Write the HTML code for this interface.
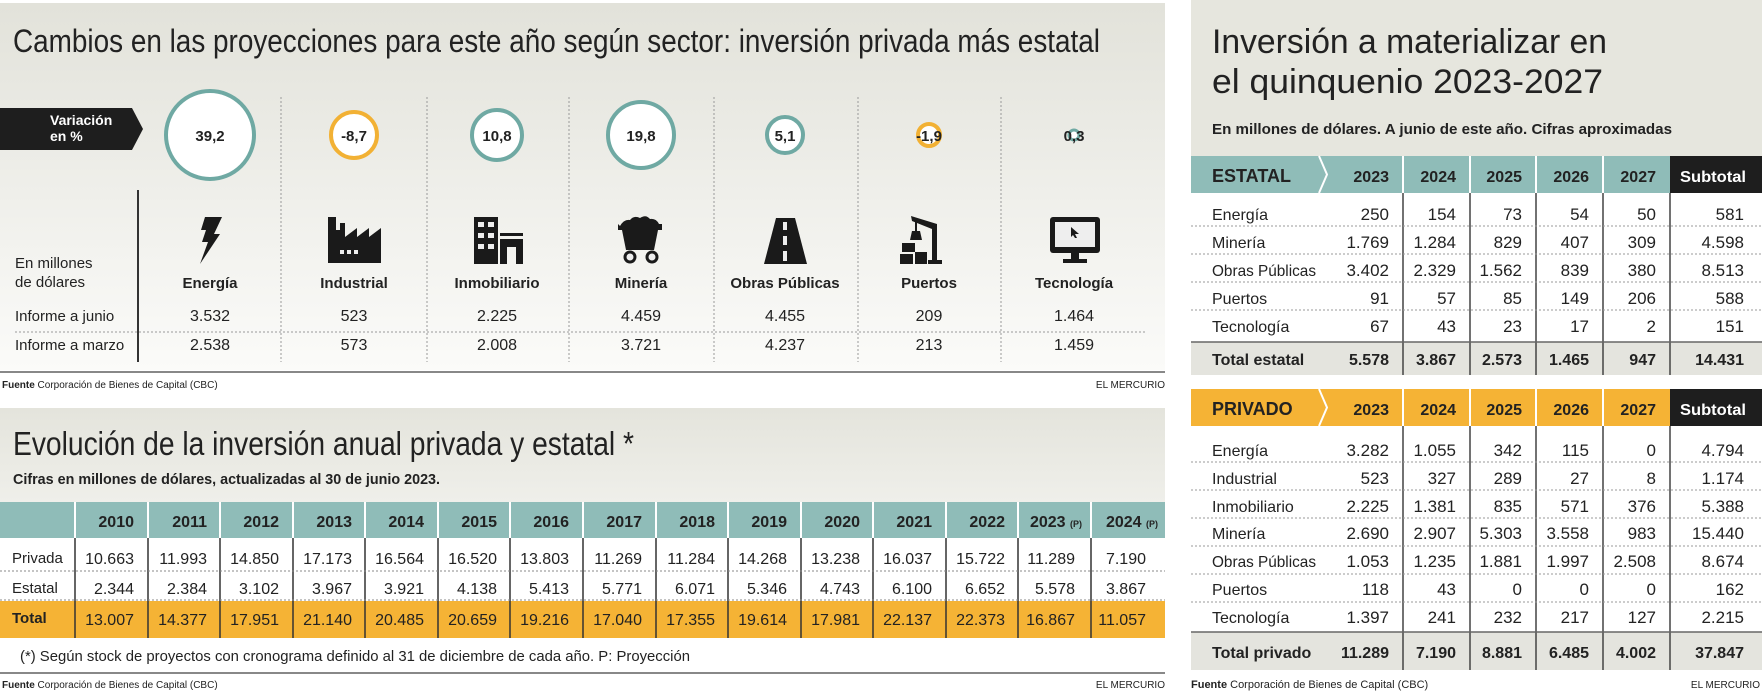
<!DOCTYPE html>
<html><head><meta charset="utf-8"><style>
html,body{margin:0;padding:0;background:#fff;}
svg{display:block;}
text{font-family:"Liberation Sans Narrow","Liberation Sans",sans-serif;fill:#222;}
.b{font-weight:bold;}
</style></head><body>
<svg width="1762" height="695" viewBox="0 0 1762 695" xmlns="http://www.w3.org/2000/svg">
<defs>
<linearGradient id="g1" x1="0" y1="0" x2="0" y2="1"><stop offset="0" stop-color="#e2e2da"/><stop offset="1" stop-color="#fbfbf9"/></linearGradient>
<linearGradient id="g2" x1="0" y1="0" x2="0" y2="1"><stop offset="0" stop-color="#e4e4dc"/><stop offset="1" stop-color="#efefea"/></linearGradient>
</defs>
<rect x="0" y="3" width="1165" height="367" fill="url(#g1)"/>
<text x="13" y="52" font-size="32" textLength="1087" lengthAdjust="spacingAndGlyphs" fill="#333">Cambios en las proyecciones para este año según sector: inversión privada más estatal</text>
<polygon points="0,108 132,108 143,129 132,150 0,150" fill="#1e1e1e"/>
<text x="50" y="125" font-size="14" class="b" style="fill:#fff">Variación</text>
<text x="50" y="141" font-size="14" class="b" style="fill:#fff">en %</text>
<g stroke="#999" stroke-dasharray="2,2" stroke-width="1">
<line x1="281" y1="97" x2="281" y2="362"/><line x1="427" y1="97" x2="427" y2="362"/><line x1="569" y1="97" x2="569" y2="362"/>
<line x1="714" y1="97" x2="714" y2="362"/><line x1="858" y1="97" x2="858" y2="362"/><line x1="1001" y1="97" x2="1001" y2="362"/>
<line x1="15" y1="332" x2="1146" y2="332"/>
</g>
<line x1="138" y1="190" x2="138" y2="362" stroke="#333" stroke-width="2"/>
<g stroke-width="4" fill="#fff">
<circle cx="210" cy="135" r="44" stroke="#6fa9a3"/>
<circle cx="354" cy="135" r="23" stroke="#f2b134"/>
<circle cx="497" cy="135" r="25" stroke="#6fa9a3"/>
<circle cx="641" cy="135" r="33" stroke="#6fa9a3"/>
<circle cx="785" cy="135" r="18" stroke="#6fa9a3"/>
<circle cx="929" cy="135" r="11" stroke="#f2b134"/>
<circle cx="1074" cy="135" r="5" stroke="#6fa9a3" stroke-width="3"/>
</g>
<g font-size="15" class="b" text-anchor="middle">
<text x="210" y="141">39,2</text><text x="354" y="141">-8,7</text><text x="497" y="141">10,8</text><text x="641" y="141">19,8</text><text x="785" y="141">5,1</text><text x="929" y="141">-1,9</text><text x="1074" y="141">0,3</text>
</g>
<g fill="#1a1a1a">
<polygon points="205,217 222,217 214,234 220,234 200,264 208,242 202,242 206,230 201,230"/>
<path d="M328,263 V237 h0 V217 h8 V230 h4 V223 h5 V237 l12,-9 v9 l12,-9 v9 l12,-9 V263 Z"/>
<rect x="340" y="250" width="4" height="4" fill="#eee"/><rect x="347" y="250" width="4" height="4" fill="#eee"/><rect x="354" y="250" width="4" height="4" fill="#eee"/>
<rect x="474" y="217" width="24" height="47"/>
<rect x="500" y="233" width="23" height="3"/>
<path d="M500,239 h23 v25 h-7 v-17 h-9 v17 h-7 Z"/>
<g fill="#eee"><rect x="478" y="222" width="6" height="5"/><rect x="488" y="222" width="6" height="5"/><rect x="478" y="233" width="6" height="5"/><rect x="488" y="233" width="6" height="5"/><rect x="478" y="244" width="6" height="5"/><rect x="488" y="244" width="6" height="5"/></g>
<path d="M620,226 q4,-7 10,-6 q4,-5 10,-2 q6,-4 10,1 q6,-1 9,5 h3 v6 h-4 l-4,20 h-28 l-4,-20 h-4 v-6 Z"/>
<circle cx="630" cy="257" r="5" stroke="#1a1a1a" stroke-width="3" fill="#eee"/><circle cx="652" cy="257" r="5" stroke="#1a1a1a" stroke-width="3" fill="#eee"/>
<polygon points="776,218 795,218 807,264 764,264"/>
<g fill="#eee"><rect x="783" y="222" width="4" height="8"/><rect x="783" y="236" width="4" height="9"/><rect x="783" y="251" width="4" height="10"/></g>
<path d="M911,216 l26,8 v36 h5 v4 h-14 v-4 h4 v-31 l-20,-8 Z"/>
<line x1="916" y1="218" x2="916" y2="231" stroke="#1a1a1a" stroke-width="2"/>
<polygon points="912,231 920,231 922,240 910,240"/>
<rect x="902" y="243" width="13" height="9"/><rect x="900" y="254" width="13" height="10"/><rect x="915" y="252" width="12" height="12"/>
<rect x="1050" y="217" width="50" height="36" rx="3"/>
<rect x="1055" y="222" width="40" height="25" fill="#eee"/>
<polygon points="1071,227 1079,234 1075,234 1077,238 1075,238 1073,235 1071,237" />
<rect x="1071" y="253" width="8" height="6"/><rect x="1063" y="259" width="24" height="4"/>
</g>
<g font-size="15" text-anchor="middle" class="b">
<text x="210" y="288">Energía</text><text x="354" y="288">Industrial</text><text x="497" y="288">Inmobiliario</text><text x="641" y="288">Minería</text><text x="785" y="288">Obras Públicas</text><text x="929" y="288">Puertos</text><text x="1074" y="288">Tecnología</text>
</g>
<g font-size="16" text-anchor="middle" fill="#333">
<text x="210" y="321">3.532</text><text x="354" y="321">523</text><text x="497" y="321">2.225</text><text x="641" y="321">4.459</text><text x="785" y="321">4.455</text><text x="929" y="321">209</text><text x="1074" y="321">1.464</text>
<text x="210" y="350">2.538</text><text x="354" y="350">573</text><text x="497" y="350">2.008</text><text x="641" y="350">3.721</text><text x="785" y="350">4.237</text><text x="929" y="350">213</text><text x="1074" y="350">1.459</text>
</g>
<g font-size="15">
<text x="15" y="268">En millones</text><text x="15" y="287">de dólares</text>
<text x="15" y="321">Informe a junio</text><text x="15" y="350">Informe a marzo</text>
</g>
<rect x="0" y="371" width="1165" height="2" fill="#888"/>
<text x="2" y="388" font-size="10"><tspan class="b">Fuente</tspan>  Corporación de Bienes de Capital (CBC)</text>
<text x="1165" y="388" font-size="10" text-anchor="end">EL MERCURIO</text>

<rect x="0" y="408" width="1165" height="94" fill="url(#g2)"/>
<text x="13" y="455" font-size="33" textLength="621" lengthAdjust="spacingAndGlyphs" fill="#333">Evolución de la inversión anual privada y estatal *</text>
<text x="13" y="484" font-size="15" class="b" textLength="427" lengthAdjust="spacingAndGlyphs" fill="#333">Cifras en millones de dólares, actualizadas al 30 de junio 2023.</text>
<rect x="0" y="502" width="1165" height="36" fill="#8fbcb8"/>
<rect x="0" y="601" width="1165" height="37" fill="#f5b335"/>
<g fill="#fff">
<rect x="74" y="502" width="2" height="36"/><rect x="147" y="502" width="2" height="36"/><rect x="219" y="502" width="2" height="36"/><rect x="292" y="502" width="2" height="36"/><rect x="364" y="502" width="2" height="36"/><rect x="437" y="502" width="2" height="36"/><rect x="509" y="502" width="2" height="36"/><rect x="582" y="502" width="2" height="36"/><rect x="655" y="502" width="2" height="36"/><rect x="727" y="502" width="2" height="36"/><rect x="800" y="502" width="2" height="36"/><rect x="872" y="502" width="2" height="36"/><rect x="945" y="502" width="2" height="36"/><rect x="1017" y="502" width="2" height="36"/><rect x="1090" y="502" width="2" height="36"/>
</g>
<g stroke="#333" stroke-width="1.5">
<line x1="75" y1="538" x2="75" y2="638"/><line x1="148" y1="538" x2="148" y2="638"/><line x1="220" y1="538" x2="220" y2="638"/><line x1="293" y1="538" x2="293" y2="638"/><line x1="365" y1="538" x2="365" y2="638"/><line x1="438" y1="538" x2="438" y2="638"/><line x1="510" y1="538" x2="510" y2="638"/><line x1="583" y1="538" x2="583" y2="638"/><line x1="656" y1="538" x2="656" y2="638"/><line x1="728" y1="538" x2="728" y2="638"/><line x1="801" y1="538" x2="801" y2="638"/><line x1="873" y1="538" x2="873" y2="638"/><line x1="946" y1="538" x2="946" y2="638"/><line x1="1018" y1="538" x2="1018" y2="638"/><line x1="1091" y1="538" x2="1091" y2="638"/>
</g>
<g stroke="#888" stroke-dasharray="2,2"><line x1="0" y1="571" x2="1165" y2="571"/><line x1="0" y1="600" x2="1165" y2="600"/></g>
<g font-size="16" class="b" text-anchor="end">
<text x="134" y="527">2010</text><text x="207" y="527">2011</text><text x="279" y="527">2012</text><text x="352" y="527">2013</text><text x="424" y="527">2014</text><text x="497" y="527">2015</text><text x="569" y="527">2016</text><text x="642" y="527">2017</text><text x="715" y="527">2018</text><text x="787" y="527">2019</text><text x="860" y="527">2020</text><text x="932" y="527">2021</text><text x="1005" y="527">2022</text>
<text x="1082" y="527">2023 <tspan font-size="9">(P)</tspan></text><text x="1158" y="527">2024 <tspan font-size="9">(P)</tspan></text>
</g>
<g font-size="16" text-anchor="end" fill="#333">
<text x="134" y="564">10.663</text><text x="207" y="564">11.993</text><text x="279" y="564">14.850</text><text x="352" y="564">17.173</text><text x="424" y="564">16.564</text><text x="497" y="564">16.520</text><text x="569" y="564">13.803</text><text x="642" y="564">11.269</text><text x="715" y="564">11.284</text><text x="787" y="564">14.268</text><text x="860" y="564">13.238</text><text x="932" y="564">16.037</text><text x="1005" y="564">15.722</text><text x="1075" y="564">11.289</text><text x="1146" y="564">7.190</text>
<text x="134" y="594">2.344</text><text x="207" y="594">2.384</text><text x="279" y="594">3.102</text><text x="352" y="594">3.967</text><text x="424" y="594">3.921</text><text x="497" y="594">4.138</text><text x="569" y="594">5.413</text><text x="642" y="594">5.771</text><text x="715" y="594">6.071</text><text x="787" y="594">5.346</text><text x="860" y="594">4.743</text><text x="932" y="594">6.100</text><text x="1005" y="594">6.652</text><text x="1075" y="594">5.578</text><text x="1146" y="594">3.867</text>
<text x="134" y="625">13.007</text><text x="207" y="625">14.377</text><text x="279" y="625">17.951</text><text x="352" y="625">21.140</text><text x="424" y="625">20.485</text><text x="497" y="625">20.659</text><text x="569" y="625">19.216</text><text x="642" y="625">17.040</text><text x="715" y="625">17.355</text><text x="787" y="625">19.614</text><text x="860" y="625">17.981</text><text x="932" y="625">22.137</text><text x="1005" y="625">22.373</text><text x="1075" y="625">16.867</text><text x="1146" y="625">11.057</text>
</g>
<g font-size="15"><text x="12" y="563">Privada</text><text x="12" y="593">Estatal</text><text x="12" y="623" class="b">Total</text></g>
<text x="20" y="661" font-size="15" fill="#333" textLength="670" lengthAdjust="spacingAndGlyphs">(*) Según stock de proyectos con cronograma definido al 31 de diciembre de cada año.   P: Proyección</text>
<rect x="0" y="672" width="1165" height="2" fill="#888"/>
<text x="2" y="688" font-size="10"><tspan class="b">Fuente</tspan>  Corporación de Bienes de Capital (CBC)</text>
<text x="1165" y="688" font-size="10" text-anchor="end">EL MERCURIO</text>

<rect x="1191" y="0" width="571" height="156" fill="#e6e6de"/>
<text x="1212" y="53" font-size="34" textLength="395" lengthAdjust="spacingAndGlyphs" fill="#333">Inversión a materializar en</text>
<text x="1212" y="93" font-size="34" textLength="391" lengthAdjust="spacingAndGlyphs" fill="#333">el quinquenio 2023-2027</text>
<text x="1212" y="134" font-size="15" class="b" textLength="460" lengthAdjust="spacingAndGlyphs" fill="#333">En millones de dólares. A junio de este año. Cifras aproximadas</text>

<rect x="1191" y="156" width="571" height="37" fill="#8fbcb8"/>
<rect x="1670" y="156" width="92" height="37" fill="#1e1e1e"/>
<polyline points="1319,156 1327,174.5 1319,193" fill="none" stroke="#fff" stroke-width="2"/>
<g fill="#fff"><rect x="1402" y="156" width="2" height="37"/><rect x="1469" y="156" width="2" height="37"/><rect x="1535" y="156" width="2" height="37"/><rect x="1602" y="156" width="2" height="37"/></g>
<rect x="1191" y="342" width="571" height="33" fill="#e4e4de"/>
<g stroke="#444" stroke-width="1.5"><line x1="1403" y1="193" x2="1403" y2="375"/><line x1="1470" y1="193" x2="1470" y2="375"/><line x1="1536" y1="193" x2="1536" y2="375"/><line x1="1603" y1="193" x2="1603" y2="375"/><line x1="1670" y1="193" x2="1670" y2="375"/></g>
<line x1="1191" y1="342" x2="1762" y2="342" stroke="#666" stroke-width="1.5"/>
<g stroke="#999" stroke-dasharray="2,2"><line x1="1191" y1="226" x2="1762" y2="226"/><line x1="1191" y1="254" x2="1762" y2="254"/><line x1="1191" y1="282" x2="1762" y2="282"/><line x1="1191" y1="310" x2="1762" y2="310"/></g>
<text x="1212" y="182" font-size="18" class="b">ESTATAL</text>
<g font-size="16" class="b" text-anchor="end"><text x="1389" y="182">2023</text><text x="1456" y="182">2024</text><text x="1522" y="182">2025</text><text x="1589" y="182">2026</text><text x="1656" y="182">2027</text><text x="1746" y="182" style="fill:#fff" textLength="66" lengthAdjust="spacingAndGlyphs">Subtotal</text></g>
<g font-size="16" fill="#333">
<text x="1212" y="220">Energía</text><text x="1212" y="248">Minería</text><text x="1212" y="276" textLength="104" lengthAdjust="spacingAndGlyphs">Obras Públicas</text><text x="1212" y="304">Puertos</text><text x="1212" y="332">Tecnología</text>
<text x="1212" y="365" class="b" style="fill:#222">Total estatal</text>
</g>
<g font-size="17" text-anchor="end" fill="#333">
<text x="1389" y="220">250</text><text x="1456" y="220">154</text><text x="1522" y="220">73</text><text x="1589" y="220">54</text><text x="1656" y="220">50</text><text x="1744" y="220">581</text>
<text x="1389" y="248">1.769</text><text x="1456" y="248">1.284</text><text x="1522" y="248">829</text><text x="1589" y="248">407</text><text x="1656" y="248">309</text><text x="1744" y="248">4.598</text>
<text x="1389" y="276">3.402</text><text x="1456" y="276">2.329</text><text x="1522" y="276">1.562</text><text x="1589" y="276">839</text><text x="1656" y="276">380</text><text x="1744" y="276">8.513</text>
<text x="1389" y="304">91</text><text x="1456" y="304">57</text><text x="1522" y="304">85</text><text x="1589" y="304">149</text><text x="1656" y="304">206</text><text x="1744" y="304">588</text>
<text x="1389" y="332">67</text><text x="1456" y="332">43</text><text x="1522" y="332">23</text><text x="1589" y="332">17</text><text x="1656" y="332">2</text><text x="1744" y="332">151</text>
</g>
<g font-size="16" text-anchor="end" class="b">
<text x="1389" y="365">5.578</text><text x="1456" y="365">3.867</text><text x="1522" y="365">2.573</text><text x="1589" y="365">1.465</text><text x="1656" y="365">947</text><text x="1744" y="365">14.431</text>
</g>

<rect x="1191" y="389" width="571" height="37" fill="#f5b335"/>
<rect x="1670" y="389" width="92" height="37" fill="#1e1e1e"/>
<polyline points="1319,389 1327,407.5 1319,426" fill="none" stroke="#fff" stroke-width="2"/>
<g fill="#fff"><rect x="1402" y="389" width="2" height="37"/><rect x="1469" y="389" width="2" height="37"/><rect x="1535" y="389" width="2" height="37"/><rect x="1602" y="389" width="2" height="37"/></g>
<rect x="1191" y="632" width="571" height="38" fill="#e4e4de"/>
<g stroke="#444" stroke-width="1.5"><line x1="1403" y1="426" x2="1403" y2="670"/><line x1="1470" y1="426" x2="1470" y2="670"/><line x1="1536" y1="426" x2="1536" y2="670"/><line x1="1603" y1="426" x2="1603" y2="670"/><line x1="1670" y1="426" x2="1670" y2="670"/></g>
<line x1="1191" y1="632" x2="1762" y2="632" stroke="#666" stroke-width="1.5"/>
<g stroke="#999" stroke-dasharray="2,2"><line x1="1191" y1="462" x2="1762" y2="462"/><line x1="1191" y1="490" x2="1762" y2="490"/><line x1="1191" y1="518" x2="1762" y2="518"/><line x1="1191" y1="546" x2="1762" y2="546"/><line x1="1191" y1="574" x2="1762" y2="574"/><line x1="1191" y1="602" x2="1762" y2="602"/></g>
<text x="1212" y="415" font-size="18" class="b">PRIVADO</text>
<g font-size="16" class="b" text-anchor="end"><text x="1389" y="415">2023</text><text x="1456" y="415">2024</text><text x="1522" y="415">2025</text><text x="1589" y="415">2026</text><text x="1656" y="415">2027</text><text x="1746" y="415" style="fill:#fff" textLength="66" lengthAdjust="spacingAndGlyphs">Subtotal</text></g>
<g font-size="16" fill="#333">
<text x="1212" y="456">Energía</text><text x="1212" y="484">Industrial</text><text x="1212" y="512">Inmobiliario</text><text x="1212" y="539">Minería</text><text x="1212" y="567" textLength="104" lengthAdjust="spacingAndGlyphs">Obras Públicas</text><text x="1212" y="595">Puertos</text><text x="1212" y="623">Tecnología</text>
<text x="1212" y="658" class="b" style="fill:#222">Total privado</text>
</g>
<g font-size="17" text-anchor="end" fill="#333">
<text x="1389" y="456">3.282</text><text x="1456" y="456">1.055</text><text x="1522" y="456">342</text><text x="1589" y="456">115</text><text x="1656" y="456">0</text><text x="1744" y="456">4.794</text>
<text x="1389" y="484">523</text><text x="1456" y="484">327</text><text x="1522" y="484">289</text><text x="1589" y="484">27</text><text x="1656" y="484">8</text><text x="1744" y="484">1.174</text>
<text x="1389" y="512">2.225</text><text x="1456" y="512">1.381</text><text x="1522" y="512">835</text><text x="1589" y="512">571</text><text x="1656" y="512">376</text><text x="1744" y="512">5.388</text>
<text x="1389" y="539">2.690</text><text x="1456" y="539">2.907</text><text x="1522" y="539">5.303</text><text x="1589" y="539">3.558</text><text x="1656" y="539">983</text><text x="1744" y="539">15.440</text>
<text x="1389" y="567">1.053</text><text x="1456" y="567">1.235</text><text x="1522" y="567">1.881</text><text x="1589" y="567">1.997</text><text x="1656" y="567">2.508</text><text x="1744" y="567">8.674</text>
<text x="1389" y="595">118</text><text x="1456" y="595">43</text><text x="1522" y="595">0</text><text x="1589" y="595">0</text><text x="1656" y="595">0</text><text x="1744" y="595">162</text>
<text x="1389" y="623">1.397</text><text x="1456" y="623">241</text><text x="1522" y="623">232</text><text x="1589" y="623">217</text><text x="1656" y="623">127</text><text x="1744" y="623">2.215</text>
</g>
<g font-size="16" text-anchor="end" class="b">
<text x="1389" y="658">11.289</text><text x="1456" y="658">7.190</text><text x="1522" y="658">8.881</text><text x="1589" y="658">6.485</text><text x="1656" y="658">4.002</text><text x="1744" y="658">37.847</text>
</g>
<text x="1191" y="688" font-size="11"><tspan class="b">Fuente</tspan> Corporación de Bienes de Capital (CBC)</text>
<text x="1760" y="688" font-size="10" text-anchor="end">EL MERCURIO</text>
</svg>
</body></html>
